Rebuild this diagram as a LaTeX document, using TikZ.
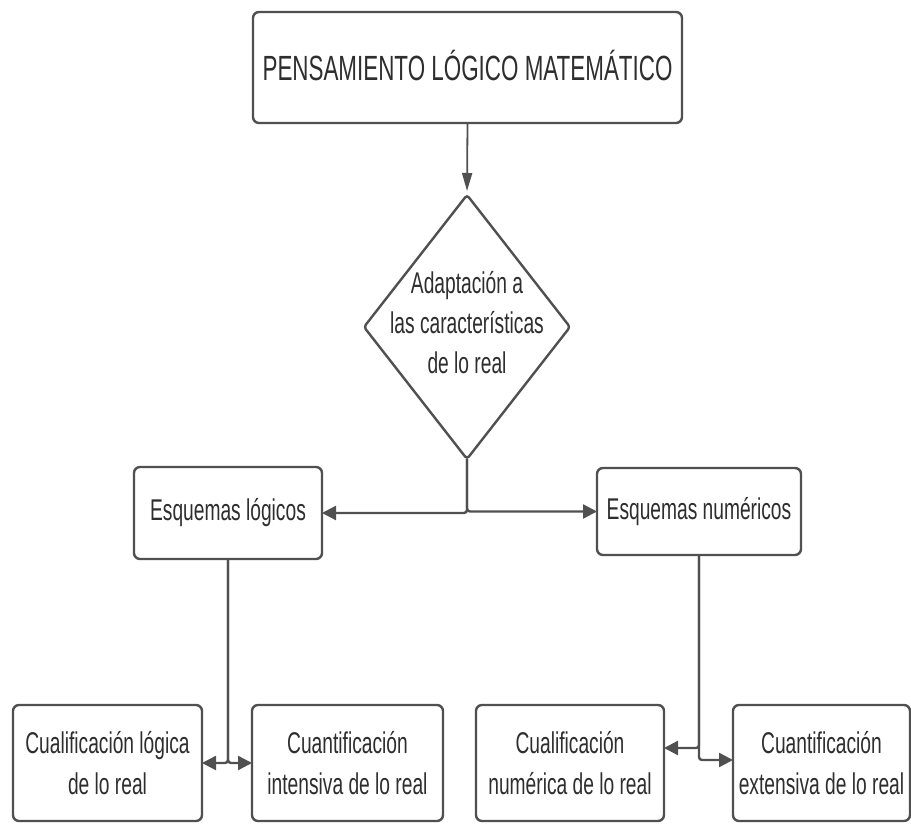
\documentclass[tikz,border=0pt]{standalone}
\usepackage{fontspec}
\setmainfont{Liberation Sans}[FakeStretch=0.64]
\usetikzlibrary{arrows.meta,shapes.geometric}
\definecolor{linecol}{HTML}{505050}
\definecolor{txtcol}{HTML}{2E2E2E}
\begin{document}
\begin{tikzpicture}[x=1pt,y=-1pt,
  box/.style={draw=linecol, line width=2.4pt, rounded corners=6pt, fill=white,
    inner sep=0pt, outer sep=0pt, align=center, text=txtcol,
    font=\fontsize{30}{41}\selectfont},
  conn/.style={draw=linecol, line width=2.4pt, rounded corners=3pt,
    -{Triangle[length=14pt,width=14pt]}},
  dtxt/.style={align=center, text=txtcol, inner sep=0pt, font=\fontsize{30}{40}\selectfont}
]
\useasboundingbox (0,0) rectangle (911,824);

\node[box, minimum width=429pt, minimum height=111pt, font=\fontsize{35}{40}\selectfont]
  (top) at (467.5,67.5) {\raisebox{5pt}{PENSAMIENTO LÓGICO MATEMÁTICO}};

\node[draw=linecol, line width=2.4pt, diamond, rounded corners=3pt, fill=white,
  minimum width=206pt, minimum height=264pt, inner sep=0pt, outer sep=0pt]
  (d) at (467,327) {};
\node[dtxt] (dt) at (467,323) {Adaptación a\\las características\\de lo real};

\node[box, minimum width=188pt, minimum height=92pt] (eslog) at (228,513) {Esquemas lógicos};
\node[box, minimum width=204pt, minimum height=87pt] (esnum) at (699,511.5) {Esquemas numéricos};

\node[box, minimum width=189pt, minimum height=116pt] (c1) at (107.5,763) {Cualificación lógica\\de lo real};
\node[box, minimum width=191pt, minimum height=116pt] (c2) at (347.5,763) {Cuantificación\\intensiva de lo real};
\node[box, minimum width=188pt, minimum height=116pt] (c3) at (570,763) {Cualificación\\numérica de lo real};
\node[box, minimum width=177pt, minimum height=116pt] (c4) at (821.5,763) {Cuantificación\\extensiva de lo real};

\draw[draw=linecol, line width=1.8pt, -{Triangle[length=18pt,width=10pt]}, shorten >=4pt]
  (top.south) -- (d.north);

\draw[conn] (d.south) |- (eslog.east);
\draw[conn] (d.south) |- (esnum.west);

\draw[conn] (eslog.south) |- (c1.east);
\draw[conn] (eslog.south) |- (c2.west);

\draw[conn] (esnum.south) |- ([yshift=15pt]c3.east);
\draw[conn] (esnum.south) |- ([yshift=3pt]c4.west);
\end{tikzpicture}
\end{document}
